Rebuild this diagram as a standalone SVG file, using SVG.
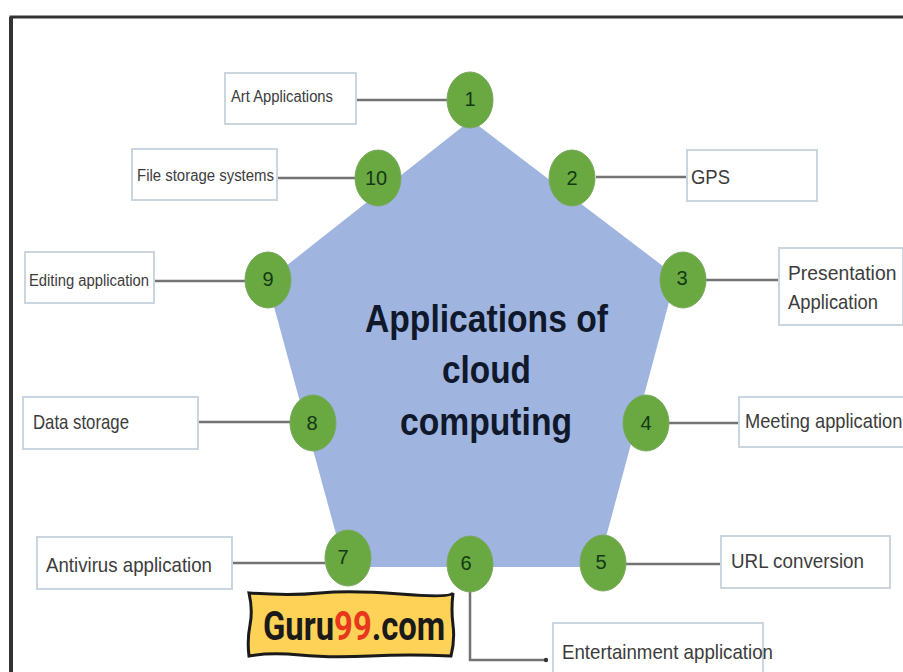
<svg xmlns="http://www.w3.org/2000/svg" width="903" height="672" viewBox="0 0 903 672">
<defs>
<style>
.box{fill:#fff;stroke:#cbd5de;stroke-width:2}
.lbl{font-family:"Liberation Sans",Arial,sans-serif;fill:#3c3c3c;font-size:21px}
.sm{font-size:16px}
.num{font-family:"Liberation Sans",Arial,sans-serif;fill:#123a12;font-size:20px;text-anchor:middle}
.dot{fill:#6aa842;stroke:#7aa860;stroke-width:1}
.ln{fill:none;stroke:#737373;stroke-width:2.5}
.ttl{font-family:"Liberation Sans",Arial,sans-serif;font-weight:bold;fill:#10182c;font-size:38px}
.logo{font-family:Roboto,"Liberation Sans",sans-serif;font-weight:bold;font-size:41px}
</style>
<marker id="dot" markerWidth="6" markerHeight="6" refX="3" refY="3" markerUnits="userSpaceOnUse"><circle cx="3" cy="3" r="2.2" fill="#333"/></marker>
</defs>
<rect width="903" height="672" fill="#fff"/>
<path d="M11 672V17H903" fill="none" stroke="#333" stroke-width="3"/>
<path d="M11 672V17" fill="none" stroke="#333" stroke-width="4"/>
<g id="center">
<polygon points="471,120 676,276 598,567 345,567 267,281" fill="#9fb5e0"/>
<text class="ttl" x="365" y="332" textLength="243" lengthAdjust="spacingAndGlyphs">Applications of</text>
<text class="ttl" x="442" y="383" textLength="89" lengthAdjust="spacingAndGlyphs">cloud</text>
<text class="ttl" x="400" y="435" textLength="172" lengthAdjust="spacingAndGlyphs">computing</text>
</g>
<g id="connectors">
<path class="ln" d="M356 100H449"/>
<path class="ln" d="M276 178H356"/>
<path class="ln" d="M155 281H246"/>
<path class="ln" d="M198 422H291"/>
<path class="ln" d="M232 563H325"/>
<path class="ln" d="M596 177H687"/>
<path class="ln" d="M705 280H779"/>
<path class="ln" d="M669 423H739"/>
<path class="ln" d="M625 564H721"/>
<path class="ln" d="M470 591V660H546" marker-end="url(#dot)" stroke-width="2"/>
</g>
<g id="node-1"><ellipse class="dot" cx="470" cy="100" rx="23" ry="28"/><text class="num" x="470" y="106">1</text></g>
<g id="node-2"><ellipse class="dot" cx="572" cy="178" rx="23" ry="28"/><text class="num" x="572" y="185">2</text></g>
<g id="node-3"><ellipse class="dot" cx="683" cy="280" rx="23" ry="28"/><text class="num" x="682" y="285">3</text></g>
<g id="node-4"><ellipse class="dot" cx="646" cy="423" rx="23" ry="28"/><text class="num" x="646" y="430">4</text></g>
<g id="node-5"><ellipse class="dot" cx="603" cy="563" rx="23" ry="28"/><text class="num" x="601" y="569">5</text></g>
<g id="node-6"><ellipse class="dot" cx="470" cy="564" rx="23" ry="28"/><text class="num" x="466" y="570">6</text></g>
<g id="node-7"><ellipse class="dot" cx="348" cy="558" rx="23" ry="28"/><text class="num" x="343" y="564">7</text></g>
<g id="node-8"><ellipse class="dot" cx="313" cy="423" rx="23" ry="28"/><text class="num" x="312" y="430">8</text></g>
<g id="node-9"><ellipse class="dot" cx="268" cy="280" rx="23" ry="28"/><text class="num" x="268" y="286">9</text></g>
<g id="node-10"><ellipse class="dot" cx="378" cy="178" rx="23" ry="28"/><text class="num" x="376" y="185">10</text></g>
<g id="label-1"><rect class="box" x="225" y="73" width="131" height="51"/><text class="lbl sm" x="231" y="102" textLength="102" lengthAdjust="spacingAndGlyphs">Art Applications</text></g>
<g id="label-2"><rect class="box" x="687" y="150" width="130" height="51"/><text class="lbl" x="691" y="184" textLength="39" lengthAdjust="spacingAndGlyphs">GPS</text></g>
<g id="label-3"><rect class="box" x="779" y="248" width="124" height="77"/><text class="lbl" transform="translate(788 280) scale(.92 1)">Presentation</text><text class="lbl" x="788" y="309" textLength="90" lengthAdjust="spacingAndGlyphs">Application</text></g>
<g id="label-4"><rect class="box" x="739" y="397" width="170" height="50"/><text class="lbl" transform="translate(745 428) scale(.87 1)">Meeting application</text></g>
<g id="label-5"><rect class="box" x="721" y="536" width="169" height="52"/><text class="lbl" x="731" y="568" textLength="133" lengthAdjust="spacingAndGlyphs">URL conversion</text></g>
<g id="label-6"><rect class="box" x="553" y="623" width="210" height="60"/><text class="lbl" x="562" y="659" textLength="211" lengthAdjust="spacingAndGlyphs">Entertainment application</text></g>
<g id="label-7"><rect class="box" x="37" y="537" width="195" height="52"/><text class="lbl" x="46" y="572" textLength="166" lengthAdjust="spacingAndGlyphs">Antivirus application</text></g>
<g id="label-8"><rect class="box" x="23" y="397" width="175" height="52"/><text class="lbl" x="33" y="429" textLength="96" lengthAdjust="spacingAndGlyphs">Data storage</text></g>
<g id="label-9"><rect class="box" x="25" y="252" width="129" height="51"/><text class="lbl sm" x="29" y="286" textLength="120" lengthAdjust="spacingAndGlyphs">Editing application</text></g>
<g id="label-10"><rect class="box" x="132" y="149" width="145" height="51"/><text class="lbl sm" x="137" y="181" textLength="137" lengthAdjust="spacingAndGlyphs">File storage systems</text></g>
<g id="logo">
<path d="M249 593 Q290 596 320 593 T400 594 T453 593 Q451 610 453 625 T451 656 Q410 654 370 656 T300 655 T249 656 Q247 640 250 625 T249 593Z" fill="#fdd257" stroke="#1a1a1a" stroke-width="3"/>
<text class="logo" transform="translate(263 640) scale(.8 1)" fill="#1a1a1a">Guru<tspan fill="#e8371c">99</tspan>.com</text>
</g>
</svg>
